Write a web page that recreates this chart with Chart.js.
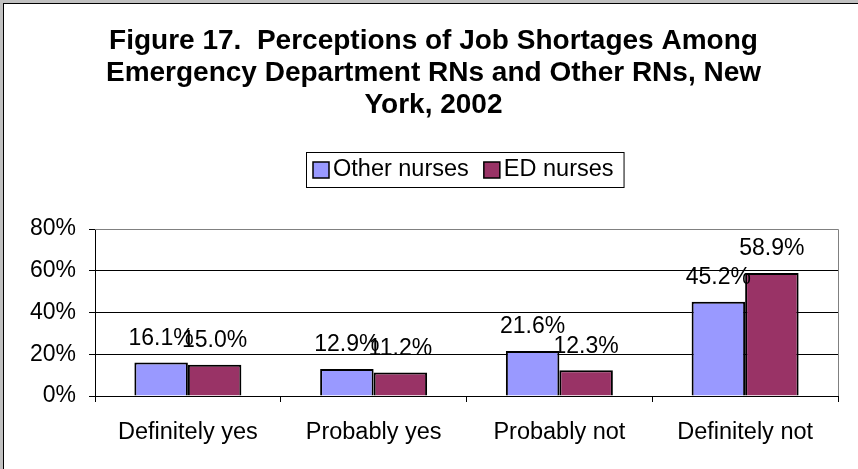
<!DOCTYPE html>
<html>
<head>
<meta charset="utf-8">
<script src="https://cdn.jsdelivr.net/npm/chart.js@4"></script>
<style>
html,body{margin:0;padding:0;background:#fff;}
canvas{display:block;}
</style>
</head>
<body>
<canvas id="c" width="858" height="469"></canvas>
<script>
const categories = ["Definitely yes", "Probably yes", "Probably not", "Definitely not"];
const otherNurses = [16.1, 12.9, 21.6, 45.2];
const edNurses = [15.0, 11.2, 12.3, 58.9];
const seriesNames = ["Other nurses", "ED nurses"];
const titleLines = ["Figure 17.  Perceptions of Job Shortages Among", "Emergency Department RNs and Other RNs, New", "York, 2002"];
const yTicks = [0, 20, 40, 60, 80];

const FONT = "'Liberation Sans', Arial, sans-serif";

const framePlugin = {
  id: 'frame',
  beforeDraw(chart) {
    const ctx = chart.ctx;
    ctx.save();
    ctx.fillStyle = '#ffffff';
    ctx.fillRect(0, 0, chart.width, chart.height);
    ctx.fillStyle = '#c0c0c0';
    ctx.fillRect(0, 0, 3, chart.height);
    ctx.fillRect(0, 0, chart.width, 3);
    ctx.fillStyle = '#000000';
    ctx.fillRect(3, 3, 1, chart.height - 3);
    ctx.fillRect(3, 3, chart.width - 3, 1);
    ctx.restore();
  },
  afterDatasetsDraw(chart) {
    const ctx = chart.ctx;
    const a = chart.chartArea;
    ctx.save();
    ctx.strokeStyle = '#808080';
    ctx.lineWidth = 1;
    ctx.beginPath();
    ctx.moveTo(a.left, a.top + 0.5);
    ctx.lineTo(a.right + 0.5, a.top + 0.5);
    ctx.lineTo(a.right + 0.5, a.bottom);
    ctx.stroke();
    ctx.fillStyle = '#000';
    ctx.font = '23px ' + FONT;
    ctx.textAlign = 'center';
    ctx.textBaseline = 'middle';
    chart.data.datasets.forEach((ds, di) => {
      const meta = chart.getDatasetMeta(di);
      meta.data.forEach((bar, i) => {
        ctx.fillText(ds.data[i].toFixed(1) + '%', bar.x, bar.y - 24);
      });
    });
    const lx = 306, ly = 152, lh = 35;
    ctx.font = '23.5px ' + FONT;
    let x = 313;
    const items = [];
    chart.data.datasets.forEach((ds) => {
      items.push({x: x, ds: ds});
      x += 20 + ctx.measureText(ds.label).width + 15;
    });
    const lw = (x - 15 + 10) - lx;
    ctx.strokeStyle = '#000';
    ctx.lineWidth = 1;
    ctx.strokeRect(lx + 0.5, ly + 0.5, lw, lh);
    items.forEach(it => {
      ctx.fillStyle = it.ds.backgroundColor;
      ctx.fillRect(it.x, 162, 16, 16);
      ctx.lineWidth = 1.5;
      ctx.strokeStyle = '#000';
      ctx.strokeRect(it.x, 162, 16, 16);
      ctx.fillStyle = '#000';
      ctx.textAlign = 'left';
      ctx.fillText(it.ds.label, it.x + 20, 170);
    });
    ctx.restore();
  }
};

new Chart(document.getElementById('c'), {
  type: 'bar',
  data: {
    labels: categories,
    datasets: [
      { label: seriesNames[0], data: otherNurses, backgroundColor: '#9999FF', borderColor: '#000', borderWidth: 2, borderSkipped: 'bottom' },
      { label: seriesNames[1], data: edNurses, backgroundColor: '#993366', borderColor: '#000', borderWidth: 2, borderSkipped: 'bottom' }
    ]
  },
  options: {
    responsive: false,
    animation: false,
    devicePixelRatio: 1,
    layout: { padding: { left: 29, right: 20, top: 0, bottom: 0 } },
    datasets: { bar: { barPercentage: 1.0, categoryPercentage: 0.576 } },
    plugins: {
      legend: { display: false },
      tooltip: { enabled: false },
      title: {
        display: true,
        text: titleLines,
        color: '#000',
        font: { family: FONT, size: 28, weight: 'bold', lineHeight: 32 / 28 },
        padding: { top: 25, bottom: 108 }
      }
    },
    scales: {
      x: {
        afterFit(s) { s.height = 73; },
        grid: { offset: true, drawOnChartArea: false, drawTicks: true, tickLength: 6, color: '#000' },
        border: { color: '#000', width: 1 },
        ticks: { color: '#000', padding: 16, font: { family: FONT, size: 23.5 }, maxRotation: 0 }
      },
      y: {
        min: 0, max: 80,
        afterFit(s) { s.width = 66; },
        afterBuildTicks(s) { s.ticks = yTicks.map(v => ({ value: v })); },
        grid: {
          color: (c) => (c.tick && c.tick.value === 80) ? '#808080' : '#000',
          tickColor: '#000',
          drawTicks: true, tickLength: 6
        },
        border: { color: '#000', width: 1 },
        ticks: { color: '#000', padding: 13, font: { family: FONT, size: 23 }, callback: (v) => v + '%' }
      }
    }
  },
  plugins: [framePlugin]
});
</script>
</body>
</html>
